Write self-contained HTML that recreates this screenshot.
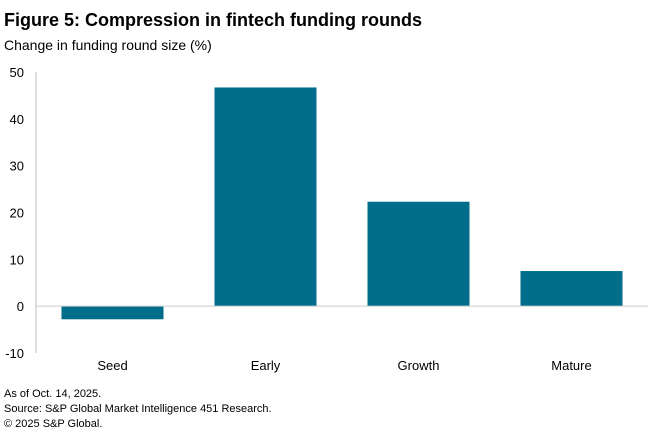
<!DOCTYPE html>
<html><head><meta charset="utf-8"><style>
body{margin:0;background:#fff;font-family:"Liberation Sans",sans-serif;}
svg{display:block}
</style></head><body>
<svg width="660" height="440" xmlns="http://www.w3.org/2000/svg">
<text x="4" y="26" font-size="18" font-weight="bold" fill="#000">Figure 5: Compression in fintech funding rounds</text>
<text x="4" y="50" font-size="14" fill="#000">Change in funding round size (%)</text>
<g id="plot"></g>
<text x="4" y="397" font-size="11" fill="#000">As of Oct. 14, 2025.</text>
<text x="4" y="412" font-size="11" fill="#000">Source: S&amp;P Global Market Intelligence 451 Research.</text>
<text x="4" y="427" font-size="11" fill="#000">© 2025 S&amp;P Global.</text>
</svg>
<script>
const categories = ["Seed","Early","Growth","Mature"];
const values = [-2.8, 46.7, 22.3, 7.5];
const yTicks = [-10, 0, 10, 20, 30, 40, 50];
const NS="http://www.w3.org/2000/svg";
const g=document.getElementById('plot');
const yMin=-10,yMax=50,plotTop=72,plotBot=353,plotLeft=36,plotRight=648;
function y(v){return plotBot-(v-yMin)/(yMax-yMin)*(plotBot-plotTop);}
const band=(plotRight-plotLeft)/categories.length;
function mk(t,a){const e=document.createElementNS(NS,t);for(const k in a)e.setAttribute(k,a[k]);g.appendChild(e);return e;}
yTicks.forEach(t=>{
  const e=mk('text',{x:24,y:y(t)+5,'font-size':13,'text-anchor':'end',fill:'#000'});
  e.textContent=t;
  
  
});
const ax=mk('line',{x1:plotLeft,x2:plotLeft,y1:plotTop,y2:plotBot,stroke:'#bbb','stroke-width':1});


categories.forEach((c,i)=>{
  const cx=plotLeft+band*(i+0.5);
  const w=102,v=values[i];
  const r=mk('rect',{x:cx-w/2,y:Math.min(y(v),y(0)),width:w,height:Math.abs(y(v)-y(0)),fill:'#006e8a'});
  
  
  const t=mk('text',{x:cx,y:370,'font-size':13,'text-anchor':'middle',fill:'#000'});
  t.textContent=c;
  
  
});
const z=mk('line',{x1:plotLeft,x2:plotRight,y1:y(0),y2:y(0),stroke:'#ccc','stroke-width':1});


</script>
</body></html>
